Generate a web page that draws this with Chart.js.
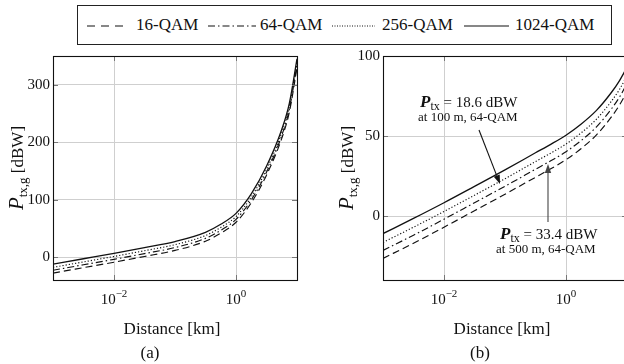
<!DOCTYPE html>
<html><head><meta charset="utf-8">
<script src="https://cdn.jsdelivr.net/npm/chart.js@4.4.0/dist/chart.umd.min.js"></script>
<style>
html,body{margin:0;padding:0;background:#fff;width:624px;height:364px;overflow:hidden;position:relative}
canvas{position:absolute;top:0}
#lg{position:absolute;left:77px;top:5px;width:533px;height:38px;border:1px solid #222;font-family:'Liberation Serif',serif;font-size:17px;color:#111}
.it{position:absolute;top:0;height:38px;line-height:38px;white-space:nowrap}
.sm{position:absolute;top:18px}
</style></head><body>
<div id="lg">
  <svg class="sm" style="left:9px" width="40" height="4"><line x1="0" y1="2" x2="38" y2="2" stroke="#111" stroke-width="1.2" stroke-dasharray="8,6"/></svg>
  <span class="it" style="left:58px">16-QAM</span>
  <svg class="sm" style="left:130px" width="50" height="4"><line x1="0" y1="2" x2="48" y2="2" stroke="#111" stroke-width="1.2" stroke-dasharray="7,3,1.5,3"/></svg>
  <span class="it" style="left:182px">64-QAM</span>
  <svg class="sm" style="left:254px" width="45" height="4"><line x1="0" y1="2" x2="43" y2="2" stroke="#111" stroke-width="1" stroke-dasharray="1,1.5"/></svg>
  <span class="it" style="left:304px">256-QAM</span>
  <svg class="sm" style="left:386px" width="46" height="4"><line x1="0" y1="2" x2="45" y2="2" stroke="#111" stroke-width="1.2"/></svg>
  <span class="it" style="left:437px">1024-QAM</span>
</div>
<canvas id="ca" width="310" height="364" style="left:0"></canvas>
<canvas id="cb" width="300" height="364" style="left:330px"></canvas>
<script>
// Distance samples [km]
const distanceKm = [0.001, 0.00316, 0.01, 0.0316, 0.1, 0.316, 0.562, 1, 1.78, 3.16, 5.62, 7.5, 10];
const seriesNames = ['16-QAM', '64-QAM', '256-QAM', '1024-QAM'];
// Panel (a) values [dBW]
const a16   = [-28, -18.5, -9, 1, 11.5, 27.5, 41.5, 60.5, 94.5, 142.5, 206.5, 252.5, 329.5];
const a64   = [-23, -13.5, -4, 6, 16.5, 32.5, 46.5, 65.5, 99.5, 147.5, 211.5, 257.5, 334.5];
const a256  = [-18, -8.5, 1, 11, 21.5, 37.5, 51.5, 70.5, 104.5, 152.5, 216.5, 262.5, 339.5];
const a1024 = [-12.5, -3, 6.5, 16.5, 27, 43, 57, 76, 110, 158, 222, 268, 345];
// Panel (b) values [dBW]
const b16   = [-26.5, -17, -7, 3.3, 13.6, 24.2, 29.5, 35.2, 42.2, 50.7, 62.2, 69.2, 77.7];
const b64   = [-21.5, -12, -2, 8.3, 18.6, 29.2, 34.5, 40.2, 47.2, 55.7, 67.2, 74.2, 82.7];
const b256  = [-16.5, -7, 2.8, 13, 23.3, 34, 39.3, 45, 52, 60.5, 72, 79, 87.5];
const b1024 = [-11, -1.5, 8.3, 18.5, 28.8, 39.5, 44.8, 50.5, 57.5, 66, 77.5, 84.5, 93];
// Tick values
const xTicks = [0.01, 1];
const xTickExp = ['\u22122', '0'];
const yTicksA = [0, 100, 200, 300];
const yTicksB = [0, 50, 100];
// Annotations (panel b)
const ann1 = {lead:'P', sub:'tx', rest:' = 18.6 dBW', line2:'at 100 m, 64-QAM'};
const ann2 = {lead:'P', sub:'tx', rest:' = 33.4 dBW', line2:'at 500 m, 64-QAM'};

const SERIF = "'Liberation Serif', 'Times New Roman', serif";
const dashes = [[7,4],[7,3,1.5,3],[1.2,2],[]];

function mkSets(arrs){
  return arrs.map((arr,i)=>({
    label: seriesNames[i],
    data: distanceKm.map((d,j)=>({x:d,y:arr[j]})),
    borderColor:'#111', borderWidth: i===3?1.3:1.15, borderDash:dashes[i],
    pointRadius:0, cubicInterpolationMode:'monotone', fill:false
  }));
}

function drawRich(ctx, parts, x, y){
  let cx = x;
  for(const p of parts){ ctx.font = p.font; ctx.fillText(p.t, cx, y + (p.dy||0)); cx += ctx.measureText(p.t).width; }
  return cx - x;
}
function richWidth(ctx, parts){ let w=0; for(const p of parts){ctx.font=p.font; w+=ctx.measureText(p.t).width;} return w; }

function arrow(ctx, x1,y1,x2,y2,color){
  ctx.save(); ctx.strokeStyle=color; ctx.fillStyle=color; ctx.lineWidth=1.1;
  const ang=Math.atan2(y2-y1,x2-x1), L=9, W=3.2;
  const bx=x2-L*Math.cos(ang), by=y2-L*Math.sin(ang);
  ctx.beginPath(); ctx.moveTo(x1,y1); ctx.lineTo(bx,by); ctx.stroke();
  ctx.beginPath(); ctx.moveTo(x2,y2);
  ctx.lineTo(bx+W*Math.sin(ang), by-W*Math.cos(ang));
  ctx.lineTo(bx-W*Math.sin(ang), by+W*Math.cos(ang)); ctx.closePath(); ctx.fill();
  ctx.restore();
}

function deco(label, yTicks, extra){
  return { id:'deco', afterDraw(chart){
    const ctx=chart.ctx, ca=chart.chartArea, xs=chart.scales.x, ys=chart.scales.y;
    ctx.save();
    ctx.strokeStyle='#777'; ctx.lineWidth=1;
    for(const v of yTicks){ const y=Math.round(ys.getPixelForValue(v))+0.5;
      ctx.beginPath(); ctx.moveTo(ca.left,y); ctx.lineTo(ca.left+5,y); ctx.moveTo(ca.right,y); ctx.lineTo(ca.right-5,y); ctx.stroke(); }
    for(const v of xTicks){ const x=Math.round(xs.getPixelForValue(v))+0.5;
      ctx.beginPath(); ctx.moveTo(x,ca.bottom); ctx.lineTo(x,ca.bottom-5); ctx.moveTo(x,ca.top); ctx.lineTo(x,ca.top+5); ctx.stroke(); }
    ctx.strokeStyle='#111'; ctx.lineWidth=1.1;
    ctx.strokeRect(Math.round(ca.left)+0.5, Math.round(ca.top)+0.5, Math.round(ca.right-ca.left), Math.round(ca.bottom-ca.top));
    ctx.fillStyle='#111';
    ctx.font='15px '+SERIF; ctx.textAlign='right'; ctx.textBaseline='middle';
    for(const v of yTicks){ ctx.fillText(String(v), ca.left-3, ys.getPixelForValue(v)); }
    ctx.textAlign='left'; ctx.textBaseline='alphabetic';
    xTicks.forEach((v,i)=>{
      const parts=[{t:'10',font:'15px '+SERIF},{t:xTickExp[i],font:'11px '+SERIF,dy:-7}];
      const w=richWidth(ctx,parts); drawRich(ctx,parts,xs.getPixelForValue(v)-w/2,304);
    });
    ctx.font='17px '+SERIF; ctx.textAlign='center';
    ctx.fillText('Distance [km]', (ca.left+ca.right)/2-3, 334);
    ctx.fillText(label.text, label.x, 358);
    ctx.save(); ctx.translate(ca.left-30, (ca.top+ca.bottom)/2); ctx.rotate(-Math.PI/2);
    ctx.textAlign='left';
    const yp=[{t:'P',font:'italic 21px '+SERIF},{t:'tx,g',font:'13px '+SERIF,dy:4},{t:' [dBW]',font:'17px '+SERIF}];
    const yw=richWidth(ctx,yp); drawRich(ctx,yp,-yw/2,0);
    ctx.restore();
    if(extra) extra(ctx,xs,ys,ca);
    ctx.restore();
  }};
}

Chart.defaults.font.family=SERIF;
function makeChart(id, sets, ymin, ymax, yTicks, label, extra){
  return new Chart(document.getElementById(id), {
    type:'line',
    data:{datasets:mkSets(sets)},
    options:{
      responsive:false, animation:false, devicePixelRatio:1,
      layout:{padding:{left:53, top:56, right:id==='ca'?13:3, bottom:84}},
      plugins:{legend:{display:false}, tooltip:{enabled:false}},
      scales:{
        x:{type:'logarithmic', min:0.001, max:10,
           afterBuildTicks:s=>{s.ticks=xTicks.map(v=>({value:v}));},
           ticks:{display:false}, grid:{color:'#cfcfcf', lineWidth:1, drawTicks:false}, border:{display:false}},
        y:{type:'linear', min:ymin, max:ymax,
           afterBuildTicks:s=>{s.ticks=yTicks.map(v=>({value:v}));},
           ticks:{display:false}, grid:{color:'#cfcfcf', lineWidth:1, drawTicks:false}, border:{display:false}}
      }
    },
    plugins:[deco(label, yTicks, extra)]
  });
}

makeChart('ca', [a16,a64,a256,a1024], -40, 350, yTicksA, {text:'(a)', x:150});
makeChart('cb', [b16,b64,b256,b1024], -40, 100, yTicksB, {text:'(b)', x:150}, (ctx,xs,ys,ca)=>{
  const o=330;
  ctx.fillStyle='#111'; ctx.textAlign='left'; ctx.textBaseline='alphabetic';
  drawRich(ctx,[{t:ann1.lead,font:'italic bold 17px '+SERIF},{t:ann1.sub,font:'12px '+SERIF,dy:3},{t:ann1.rest,font:'15px '+SERIF}], 420-o, 107);
  ctx.font='13px '+SERIF; ctx.fillText(ann1.line2, 418-o, 121);
  drawRich(ctx,[{t:ann2.lead,font:'italic bold 17px '+SERIF},{t:ann2.sub,font:'12px '+SERIF,dy:3},{t:ann2.rest,font:'15px '+SERIF}], 500-o, 239);
  ctx.font='13px '+SERIF; ctx.fillText(ann2.line2, 496-o, 253);
  arrow(ctx, 479-o, 130, 500-o, 184, '#111');
  arrow(ctx, 548-o, 222, 548-o, 164, '#444');
});
</script>
</body></html>
